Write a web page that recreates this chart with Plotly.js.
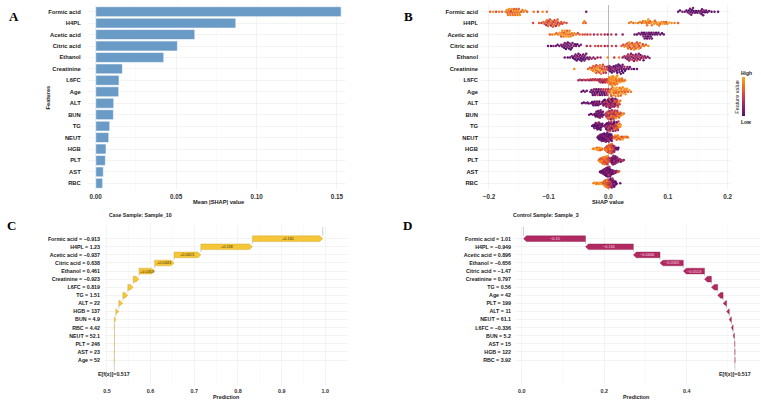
<!DOCTYPE html>
<html>
<head>
<meta charset="utf-8">
<script src="https://cdn.plot.ly/plotly-3.0.1.min.js"></script>
<style>
html,body{margin:0;padding:0;background:#fff}
#chart{width:761px;height:405px}
</style>
</head>
<body>
<div id="chart"></div>
<script>
// ---------- Panel A: mean |SHAP| importance ----------
const features = ['Formic acid','H4PL','Acetic acid','Citric acid','Ethanol','Creatinine','L6FC','Age','ALT','BUN','TG','NEUT','HGB','PLT','AST','RBC'];
const meanAbsShap = [0.1526,0.0871,0.0616,0.0508,0.0423,0.0166,0.0145,0.0143,0.0112,0.0110,0.0087,0.0081,0.0064,0.0060,0.0047,0.0043];

// ---------- Panel B: per-sample SHAP values (x 1000) and scaled feature value (0 = low, 9 = high) ----------
const formicPts = [[-198,6],[-193,8],[-188,5],[-183,7],[-178,6],[-172,7],[-170,8],[-169,6],[-168,7],[-167,7],[-166,8],[-165,6],[-164,7],[-163,5],[-162,8],[-161,6],[-160,7],[-159,8],[-158,6],[-157,6],[-156,7],[-155,8],[-154,6],[-153,7],[-152,7],[-151,8],[-150,6],[-149,7],[-148,8],[-146,6],[-144,7],[-142,7],[-139,8],[-136,6],[-125,7],[-118,5],[-110,8],[-103,6],[-37,1],
  [117,1],[120,0],[124,2],[128,1],[131,0],[133,1],[135,0],[136,2],[137,1],[138,0],[139,1],[140,0],[141,1],[142,2],[143,0],[145,1],[147,0],[149,1],[151,0],[153,2],[155,1],[156,0],[157,1],[158,0],[159,1],[160,2],[162,0],[164,1],[166,0],[169,1],[173,0],[178,1],[184,0]];
const h4plPts = [[-126,5],[-116,6],[-112,4],[-109,7],[-107,5],[-105,6],[-104,3],[-103,7],[-102,5],[-101,6],[-100,4],[-99,7],[-98,5],[-97,6],[-96,3],[-95,7],[-94,5],[-93,6],[-92,4],[-91,7],[-90,5],[-89,6],[-88,3],[-87,7],[-86,5],[-85,6],[-84,4],[-83,7],[-81,5],[-79,6],[-77,4],[-74,6],[-70,5],[-42,7],[-40,8],[-38,6],
  [35,7],[38,8],[42,6],[46,9],[50,7],[53,8],[56,6],[58,7],[60,9],[62,8],[64,6],[65,7],[66,8],[67,9],[68,7],[70,6],[72,8],[73,7],[75,9],[77,8],[78,6],[80,7],[82,8],[84,9],[85,7],[87,6],[89,8],[91,9],[93,7],[95,8],[97,6],[99,7],[102,9],[106,8],[111,7],[117,6]];
const aceticPts = [[-98,6],[-94,7],[-90,8],[-87,6],[-84,7],[-82,9],[-80,8],[-79,6],[-78,7],[-77,8],[-76,9],[-75,7],[-74,6],[-73,8],[-72,7],[-71,9],[-70,8],[-69,6],[-68,7],[-67,8],[-66,9],[-65,7],[-64,6],[-63,8],[-61,7],[-59,6],[-57,8],[-54,7],[-51,5],[-48,6],
  [-43,5],[-39,6],[-35,4],[-30,5],[-24,3],[-18,4],[-12,5],[-6,3],[-1,2],[5,4],[13,3],[24,2],
  [44,1],[48,0],[51,2],[54,1],[56,0],[58,1],[59,2],[60,0],[61,1],[62,0],[63,1],[64,2],[65,0],[66,1],[67,0],[68,1],[69,2],[70,0],[71,1],[72,0],[73,1],[74,0],[76,2],[78,1],[80,0],[82,1],[84,0],[87,1],[90,0],[93,1]];
const citricPts = [[-101,1],[-96,0],[-92,2],[-88,1],[-85,0],[-82,1],[-79,2],[-77,0],[-75,1],[-74,0],[-73,2],[-72,1],[-71,0],[-70,1],[-69,2],[-68,0],[-67,1],[-66,0],[-65,1],[-64,2],[-63,0],[-62,1],[-61,0],[-60,1],[-58,2],[-56,0],[-54,1],[-52,0],[-49,1],[-46,2],
  [-36,3],[-30,4],[-22,5],[-17,4],[-12,5],[-6,3],[-1,4],[6,5],[13,4],
  [22,6],[25,5],[27,7],[29,6],[31,8],[32,5],[33,7],[34,6],[35,8],[36,5],[37,7],[38,6],[39,9],[40,5],[41,7],[42,6],[43,8],[44,5],[45,7],[46,6],[47,8],[48,5],[49,7],[50,6],[51,9],[52,5],[53,7],[54,6],[56,8],[58,5],[60,7],[63,6],[67,8]];
const ethanolPts = [[-73,1],[-68,0],[-64,1],[-61,2],[-59,0],[-57,1],[-56,0],[-55,1],[-54,2],[-53,0],[-52,1],[-51,0],[-50,1],[-49,2],[-48,0],[-47,1],[-46,0],[-45,1],[-44,2],[-43,0],[-42,1],[-41,0],[-40,1],[-39,2],[-38,0],[-37,1],[-35,0],[-33,2],[-31,1],[-28,3],[-25,2],[-22,3],[-18,2],[-13,3],
  [-1,8],[10,4],[18,7],
  [24,2],[27,3],[29,1],[31,4],[32,2],[33,3],[34,1],[35,2],[36,4],[37,3],[38,1],[39,2],[40,5],[41,3],[42,1],[43,2],[44,4],[45,3],[46,1],[47,2],[48,5],[49,3],[50,1],[51,2],[52,4],[53,3],[54,1],[55,2],[57,3],[59,4],[61,2],[63,3],[66,1],[69,2],[59,1]];
const creatininePts = [[-57,8],[-34,7],[-31,6],[-29,8],[-27,5],[-26,7],[-25,6],[-24,8],[-23,9],[-22,6],[-21,7],[-20,5],[-19,8],[-18,6],[-17,7],[-16,9],[-15,5],[-14,6],[-13,8],[-12,7],[-11,5],[-10,6],[-9,8],[-8,4],[-7,6],[-6,5],[-5,7],[-4,4],[-3,5],[-2,3],[-20,6],[-14,7],[-9,5],
  [0,3],[1,1],[2,2],[3,0],[4,1],[5,2],[6,0],[7,1],[8,3],[9,0],[10,1],[11,2],[12,0],[13,1],[14,0],[15,2],[16,1],[17,0],[18,1],[19,2],[20,0],[21,1],[22,0],[23,2],[24,1],[25,0],[26,1],[27,3],[28,0],[30,1],[32,2],[34,0],[36,1],[39,2],[43,0],[48,1],[15,0],[19,1],[23,0]];
const l6fcPts = [[-50,3],[-47,4],[-44,2],[-41,5],[-38,3],[-35,4],[-32,2],[-30,5],[-28,3],[-26,4],
  [-24,5],[-22,3],[-20,4],[-18,5],[-16,2],[-15,4],[-14,3],[-13,5],[-12,4],[-11,3],[-10,5],[-9,2],[-8,4],[-7,3],[-6,5],[-5,4],[-4,3],[-3,5],[-2,4],[-1,6],
  [0,6],[1,7],[1,8],[2,9],[2,7],[3,8],[3,6],[4,9],[4,7],[5,8],[5,9],[6,7],[6,8],[7,6],[7,9],[8,7],[8,8],[9,9],[9,7],[10,8],[10,6],[11,9],[11,7],[12,8],[12,9],[13,7],[13,8],[14,6],[14,9],[15,7],[15,8],[16,9],[17,7],[18,8],[19,6],[20,9],[21,7],[22,8],[23,7],[24,6],[26,8],[28,7]];
const agePts = [[-45,1],[-42,0],[-39,2],[-36,1],
  [-30,0],[-28,1],[-27,2],[-26,0],[-25,1],[-24,3],[-23,0],[-22,1],[-21,2],[-20,0],[-19,1],[-18,4],[-17,0],[-16,1],[-15,2],[-14,0],[-13,1],[-12,3],[-11,0],[-10,1],[-9,2],[-8,4],[-7,1],[-6,0],[-5,3],[-4,5],[-3,2],[-2,4],[-1,5],[0,3],
  [2,6],[3,7],[4,8],[5,6],[6,9],[7,7],[8,8],[9,6],[10,9],[11,7],[12,8],[13,6],[14,9],[15,7],[16,8],[17,9],[18,6],[19,7],[20,8],[21,9],[22,7],[23,6],[24,8],[25,9],[26,7],[27,8],[28,6],[29,9],[30,7],[31,8],[33,6],[35,9],[38,7],[13,8],[17,7],[21,6],[9,8],[5,5]];
const altPts = [[-44,1],[-41,0],[-38,2],[-35,1],[-33,0],
  [-29,1],[-27,0],[-26,2],[-25,1],[-24,0],[-23,1],[-22,3],[-21,0],[-20,1],[-19,2],[-18,0],[-17,1],[-16,3],[-15,0],[-14,1],
  [-11,2],[-10,1],[-9,3],[-8,0],[-7,2],[-6,4],[-5,1],[-4,3],[-3,0],[-2,5],[-1,2],[0,1],[1,4],[2,0],[3,3],[4,5],[5,1],[6,2],[7,4],[8,0],[9,3],[10,5],[11,1],[12,6],[13,2],[14,4],[15,7],[16,3],[17,6],[18,8],[19,5],[20,7],
  [-6,0],[-3,2],[0,4],[3,1],[6,3],[9,5],[12,2],[15,4],[-8,1],[-4,3],[0,0],[4,2],[8,4],[12,1],[16,6],[1,3],[5,0],[10,2],[2,5],[7,1]];
const bunPts = [[-32,1],[-29,0],[-26,2],
  [-23,0],[-22,1],[-21,0],[-20,2],[-19,1],[-18,0],[-17,1],[-16,0],[-15,2],[-14,1],[-13,0],[-12,1],[-11,0],[-10,2],[-9,1],[-8,0],[-20,1],[-17,0],[-14,2],[-11,1],[-16,1],[-13,2],
  [-5,3],[-4,5],[-3,2],[-2,6],[-1,4],[0,3],[1,7],[2,5],[3,2],[4,6],[5,4],[6,8],[7,3],[8,5],[9,7],[10,2],[11,6],[12,4],[13,8],[14,5],[15,3],[16,7],[17,6],[18,9],[19,4],[20,7],[21,8],[22,5],[24,9],[26,7],
  [-3,4],[0,6],[3,5],[6,3],[9,6],[12,7],[15,4],[18,6],[-1,5],[2,3],[5,7],[8,4],[11,5],[14,6],[4,2],[7,6],[10,4]];
const tgPts = [[-27,0],[-25,1],[-24,0],[-23,2],[-22,0],[-21,1],[-20,0],[-19,1],[-18,2],[-17,0],[-16,1],[-15,0],[-14,1],[-13,2],[-12,0],[-11,1],[-10,0],[-9,1],[-22,1],[-19,0],[-16,2],[-13,0],[-18,1],[-15,0],
  [-6,2],[-5,1],[-4,3],[-3,0],[-2,4],[-1,2],[0,1],[1,5],[2,3],[3,0],[4,6],[5,2],[6,4],[7,1],[8,7],[9,3],[10,5],[11,2],[12,8],[13,4],[14,6],[15,3],[16,8],[17,7],[18,9],[19,6],[20,8],[21,9],
  [-4,1],[-1,3],[2,0],[5,4],[8,2],[11,5],[14,1],[17,4],[-2,0],[1,2],[4,3],[7,5],[10,1],[13,6],[16,2],[3,4],[6,1],[9,0],[12,3],[15,5]];
const neutPts = [[-18,0],[-17,1],[-16,0],[-15,2],[-14,1],[-13,0],[-12,1],[-11,2],[-10,0],[-9,1],[-8,0],[-7,2],[-6,1],[-5,0],[-4,1],[-3,3],[-2,0],[-1,1],[0,2],[1,0],[2,1],[3,3],[4,0],[5,2],[6,1],[7,3],
  [-15,0],[-12,1],[-9,0],[-6,2],[-3,1],[0,0],[3,1],[6,2],[-13,1],[-10,0],[-7,1],[-4,2],[-1,0],[2,1],[5,0],[-11,1],[-8,2],[-5,0],[-2,1],[1,2],[4,0],[-7,0],[-3,1],[0,3],
  [9,5],[10,7],[11,6],[12,8],[13,5],[14,9],[15,6],[16,7],[17,8],[18,5],[19,9],[20,6],[21,7],[22,8],[23,5],[24,9],[25,6],[27,7],[29,8],[31,6],[33,7],[14,6]];
const hgbPts = [[-26,8],[-24,7],[-22,9],[-20,8],[-19,6],[-18,9],[-17,7],[-16,8],[-15,9],[-14,7],[-13,8],[-12,6],[-11,9],[-10,7],[-20,9],[-15,8],
  [-6,6],[-5,5],[-4,7],[-3,4],[-2,6],[-1,8],[0,5],[1,7],[2,4],[3,6],[4,8],[5,5],[6,7],[7,3],[8,6],[9,5],[10,4],[11,3],[12,2],[13,1],
  [-4,6],[-2,5],[0,7],[2,6],[4,4],[6,5],[8,7],[10,3],[-3,7],[-1,6],[1,5],[3,8],[5,4],[7,6],[9,2],[-5,7],[0,6],[5,6],[10,2],[-2,8],[2,5],[6,4],[1,6],[3,7],[4,5],[5,3],[6,6],[7,4],[8,3],[0,4],[2,7],[4,6],[14,1],[15,0],[16,1],[17,0]];
const pltPts = [[-16,7],[-15,6],[-14,8],[-13,5],[-12,7],[-11,6],[-10,9],[-9,5],[-8,7],[-7,6],[-6,8],[-5,5],[-4,7],[-3,6],[-2,4],[-1,7],[0,5],[1,6],[2,4],[3,5],[-13,8],[-11,6],[-9,7],[-7,5],[-5,8],[-3,6],[-1,5],[1,4],[-10,6],[-8,7],[-6,5],[-4,6],[-2,8],[0,6],[-6,7],[-3,5],
  [4,3],[5,2],[6,1],[7,3],[8,0],[9,2],[10,4],[11,1],[12,3],[13,0],[14,2],[15,4],[16,1],[17,3],[18,0],[19,2],[20,5],[21,1],[22,3],[24,4],[26,2],[5,1],[7,2],[9,0],[11,3],[13,1],[15,2],[6,0],[8,1],[10,2],[12,0],[14,3],[7,1],[9,3],[11,2],[8,2]];
const astPts = [[-14,0],[-13,1],[-12,0],[-11,2],[-10,1],[-9,0],[-8,1],[-7,3],[-6,0],[-5,1],[-4,2],[-3,0],[-2,1],[-1,4],[0,0],[1,1],[2,2],[3,0],[4,1],[5,3],[6,0],[7,1],[8,2],[9,0],[10,1],[11,4],[12,0],[13,1],[14,2],[16,5],
  [-10,0],[-8,2],[-6,1],[-4,0],[-2,3],[0,1],[2,0],[4,2],[6,1],[8,0],[10,3],[-9,1],[-7,0],[-5,2],[-3,1],[-1,0],[1,3],[3,1],[5,0],[7,2],[-6,0],[-4,1],[-2,0],[0,2],[2,1],[4,0],[-5,1],[-3,2],[-1,1],[1,0],[3,2],[-4,0],[-2,1],[0,0],[2,3],[-1,2],[1,1],[0,4],[-3,0],[3,1],[-7,1],[18,6]];
const rbcPts = [[-25,8],[-23,7],[-21,9],[-19,8],[-17,7],[-15,9],[-13,8],[-11,6],[-20,7],[-16,8],[-12,9],
  [-9,7],[-8,5],[-7,8],[-6,4],[-5,6],[-4,7],[-3,3],[-2,5],[-1,8],[0,2],[1,6],[2,4],[3,7],[4,1],[5,5],[6,3],[7,6],[8,0],[9,4],[10,2],[11,5],[12,1],[13,3],[14,0],
  [-8,6],[-6,7],[-4,5],[-2,6],[0,4],[2,7],[4,3],[6,5],[8,2],[10,1],[12,0],[-7,7],[-5,8],[-3,6],[-1,5],[1,3],[3,4],[5,2],[7,1],[9,0],[-4,6],[-1,7],[2,5],[5,3],[8,1],[0,6],[3,2],[-2,8],[1,4],[4,0],[6,2],[-6,6],[11,0],[20,1],[-3,7],[7,3]];
const beePoints = [formicPts,h4plPts,aceticPts,citricPts,ethanolPts,creatininePts,l6fcPts,agePts,altPts,bunPts,tgPts,neutPts,hgbPts,pltPts,astPts,rbcPts];

// ---------- Panels C and D: single-sample waterfalls ----------
const baseValue = 0.517;
const caseFeatures = ['Formic acid','H4PL','Acetic acid','Citric acid','Ethanol','Creatinine','L6FC','TG','ALT','HGB','BUN','RBC','NEUT','PLT','AST','Age'];
const caseValues = ['\u22120.913','1.23','\u22120.937','0.638','0.461','\u22120.923','0.819','1.51','22','137','4.9','4.42','52.1','246','23','52'];
const caseShap = [0.161,0.118,0.0613,0.0443,0.0359,0.0132,0.0124,0.0114,0.0092,0.0068,0.0035,-0.0002,-0.0003,0.0002,0.0001,0.0002];
const controlFeatures = ['Formic acid','H4PL','Acetic acid','Ethanol','Citric acid','Creatinine','TG','Age','PLT','ALT','NEUT','L6FC','BUN','AST','HGB','RBC'];
const controlValues = ['1.01','\u22120.949','0.896','\u22120.656','\u22121.47','0.797','0.56','42','199','11','61.1','\u22120.336','5.2','15','122','3.92'];
const controlShap = [-0.1503,-0.116,-0.0646,-0.0565,-0.0513,-0.0168,-0.0152,-0.0131,-0.0084,-0.0065,-0.0052,-0.0042,-0.0031,-0.0008,-0.0004,-0.0002];

// ---------- geometry / style ----------
const W = 761, H = 405;
const FONT = 'Liberation Sans, Arial, sans-serif';
const SERIF = 'Liberation Serif, Times New Roman, serif';
const GRID = '#ebebeb', MINOR = '#f5f5f5';
const px2x = p => p / W, px2y = p => 1 - p / H;

const pA = {x:[87.7,345], y:[4.8,190.2], xr:[-0.005,0.155]};
const pB = {x:[481,730], y:[4.8,190.2], xr:[-0.2133,0.2039]};
const pC = {x:[105,348], y:[226,386], xr:[0.4957,1.0518]};
const pD = {x:[515,760], y:[226,386], xr:[-0.0162,0.5777]};
const rowRangeTop = [15.6,-0.6];
const rowRangeBottom = [18.21,-1.57];

const inferno = [[0,'#550F6C'],[0.15,'#781C6D'],[0.34,'#A52C60'],[0.53,'#CF4446'],[0.72,'#ED6925'],[0.9,'#F7901A'],[1,'#F8A53A']];

function xAxis(p, anchor, dtick, fmt, size, zero){
  return {domain:[px2x(p.x[0]), px2x(p.x[1])], range:p.xr, anchor, tick0:0, dtick, tickformat:fmt,
    showgrid:true, gridcolor:GRID, gridwidth:0.6,
    minor:{tick0:0, dtick:dtick/2, showgrid:true, gridcolor:MINOR, gridwidth:0.5},
    zeroline:!!zero, zerolinecolor:'#a8a8a8', zerolinewidth:0.8,
    showline:false, ticks:'', ticklabelstandoff:1,
    tickfont:{family:FONT, size, color:'#333', weight:700}, fixedrange:true};
}
function yAxis(p, anchor, range, labels, size, standoff){
  return {domain:[px2y(p.y[1]), px2y(p.y[0])], range, anchor, tickmode:'array',
    tickvals:labels.map((_, i) => i), ticktext:labels,
    showgrid:true, gridcolor:GRID, gridwidth:0.6, zeroline:false, showline:false, ticks:'',
    ticklabelstandoff:standoff, tickfont:{family:FONT, size, color:'#1a1a1a', weight:700}, fixedrange:true};
}

// ---------- beeswarm offsets (pixel space) ----------
function swarmOffsets(xs, d){
  const order = xs.map((_, i) => i).sort((a, b) => xs[a] - xs[b]);
  const placed = [], off = new Array(xs.length).fill(0);
  for (const i of order){
    const x = xs[i];
    const near = placed.filter(p => Math.abs(p.x - x) < d);
    const cands = [0];
    for (const p of near){ const dy = Math.sqrt(d*d - (p.x - x)**2); cands.push(p.y + dy, p.y - dy); }
    cands.sort((a, b) => Math.abs(a) - Math.abs(b) || a - b);
    let y = 0;
    for (const c of cands){
      if (near.every(p => (p.x - x)**2 + (p.y - c)**2 >= d*d - 1e-6)){ y = c; break; }
    }
    placed.push({x, y}); off[i] = y;
  }
  return off;
}

const bX = [], bY = [], bC = [];
const bPxPerUnit = (pB.x[1] - pB.x[0]) / (pB.xr[1] - pB.xr[0]);
const bRowPx = (pB.y[1] - pB.y[0]) / (rowRangeTop[0] - rowRangeTop[1]);
beePoints.forEach((pts, row) => {
  const vals = pts.map(p => p[0] / 1000);
  const xs = vals.map(v => v * bPxPerUnit);
  let off = swarmOffsets(xs, 2.15);
  const maxOff = Math.max(...off.map(Math.abs));
  const limit = 0.42 * bRowPx;
  if (maxOff > limit) off = off.map(o => o * limit / maxOff);
  vals.forEach((v, k) => { bX.push(v); bY.push(row + off[k] / bRowPx); bC.push(pts[k][1] / 9); });
});

// ---------- waterfall geometry ----------
function waterfall(shap, p, axX, axY, fill, edge, textColor){
  const pxPerUnit = (p.x[1] - p.x[0]) / (p.xr[1] - p.xr[0]);
  const head = 3 / pxPerUnit, half = 0.35;
  const n = shap.length, bars = new Array(n);
  let cum = baseValue;
  for (let i = n - 1; i >= 0; i--){ bars[i] = {s:cum, e:cum + shap[i]}; cum += shap[i]; }
  const fx = cum;
  const px = [], py = [], lx = [], ly = [], notes = [];
  bars.forEach((b, i) => {
    const dir = b.e >= b.s ? 1 : -1;
    const h = Math.min(head, Math.abs(b.e - b.s));
    const base = b.e - dir * h;
    px.push(b.s, base, b.e, base, b.s, b.s, null);
    py.push(i - half, i - half, i, i + half, i + half, i - half, null);
    if (i > 0){ lx.push(b.e, b.e, null); ly.push(i - half, i - 1 + half, null); }
    if (Math.abs(shap[i]) > 0.025){
      const s = String(Number(shap[i].toPrecision(3)));
      const txt = shap[i] > 0 ? '+' + s : s.replace('-', '\u2212');
      notes.push({x:(b.s + b.e) / 2, y:i, xref:axX, yref:axY, text:txt, showarrow:false,
        font:{family:FONT, size:3.9, color:textColor}});
    }
  });
  lx.push(fx, fx, null); ly.push(-1.45, -half, null);
  lx.push(baseValue, baseValue, null); ly.push(n - 1 + half, 16.3, null);
  notes.push({x:fx, y:-1.9, xref:axX, yref:axY, text:'f(x)=' + fx.toFixed(3), showarrow:false,
    font:{family:FONT, size:5.3, color:'#1a1a1a', weight:700}});
  notes.push({x:baseValue, y:16.7, xref:axX, yref:axY, text:'E[f(x)]=' + baseValue.toFixed(3), showarrow:false,
    font:{family:FONT, size:5.3, color:'#1a1a1a', weight:700}});
  const traces = [
    {type:'scatter', mode:'lines', x:lx, y:ly, xaxis:axX, yaxis:axY, line:{color:'#a0a0a0', width:0.5}, hoverinfo:'skip', showlegend:false},
    {type:'scatter', mode:'lines', x:px, y:py, xaxis:axX, yaxis:axY, fill:'toself', fillcolor:fill,
     line:{color:edge, width:0.4}, hoverinfo:'skip', showlegend:false}
  ];
  return {traces, notes};
}

const wfC = waterfall(caseShap, pC, 'x3', 'y3', '#f5c637', '#c99f25', '#3a3000');
const wfD = waterfall(controlShap, pD, 'x4', 'y4', '#b02a61', '#8a1e4a', '#f6dbe6');

const traces = [
  {type:'bar', orientation:'h', x:meanAbsShap, y:features.map((_, i) => i), width:0.87,
   marker:{color:'#6a9bc7', line:{color:'#ffffff', width:0.6}}, xaxis:'x', yaxis:'y', hoverinfo:'skip', showlegend:false},
  {type:'scatter', mode:'markers', x:bX, y:bY, xaxis:'x2', yaxis:'y2', hoverinfo:'skip', showlegend:false,
   marker:{size:2.5, color:bC, colorscale:inferno, cmin:0, cmax:1, line:{width:0}, showscale:true,
     colorbar:{x:px2x(741.5), xanchor:'left', y:px2y(96.7), yanchor:'middle', len:38.7, lenmode:'pixels',
       thickness:2.6, thicknessmode:'pixels', xpad:0, ypad:0, outlinewidth:0, showticklabels:false, ticks:''}}},
  ...wfC.traces, ...wfD.traces
];

function note(text, x, y, size, opts){
  return Object.assign({xref:'paper', yref:'paper', x:px2x(x), y:px2y(y), text, showarrow:false,
    xanchor:'center', yanchor:'middle', font:{family:FONT, size, color:'#1a1a1a', weight:700}}, opts || {});
}

const annotations = [
  note('A', 14, 17, 13, {font:{family:SERIF, size:13, color:'#000', weight:700}}),
  note('B', 408, 17, 13, {font:{family:SERIF, size:13, color:'#000', weight:700}}),
  note('C', 12, 225, 13, {font:{family:SERIF, size:13, color:'#000', weight:700}}),
  note('D', 407, 225, 13, {font:{family:SERIF, size:13, color:'#000', weight:700}}),
  note('Features', 48, 97.5, 5.7, {textangle:-90}),
  note('Mean |SHAP| value', 218, 202, 5.7),
  note('SHAP value', 608, 202, 5.7),
  note('High', 746.5, 72.5, 5),
  note('Low', 746, 122, 5),
  note('Feature value', 737, 96.7, 5.5, {textangle:-90, font:{family:FONT, size:5.5, color:'#1a1a1a'}}),
  note('Case Sample: Sample_10', 107, 215, 5.2, {xanchor:'left'}),
  note('Control Sample: Sample_3', 511, 215, 5.2, {xanchor:'left'}),
  note('Prediction', 226, 397, 5.4),
  note('Prediction', 636, 397, 5.4),
  ...wfC.notes, ...wfD.notes
];

const layout = {
  width:W, height:H, margin:{l:0, r:0, t:0, b:0}, paper_bgcolor:'#fff', plot_bgcolor:'#fff',
  showlegend:false, font:{family:FONT},
  xaxis: xAxis(pA, 'y', 0.05, '.2f', 6.3),
  yaxis: yAxis(pA, 'x', rowRangeTop, features, 5.8, 6),
  xaxis2: xAxis(pB, 'y2', 0.1, '.1f', 6.3, true),
  yaxis2: yAxis(pB, 'x2', rowRangeTop, features, 5.8, 2),
  xaxis3: xAxis(pC, 'y3', 0.1, '.1f', 5.4),
  yaxis3: yAxis(pC, 'x3', rowRangeBottom, caseFeatures.map((f, i) => f + ' = ' + caseValues[i]), 5.3, 4),
  xaxis4: xAxis(pD, 'y4', 0.2, '.1f', 5.4),
  yaxis4: yAxis(pD, 'x4', rowRangeBottom, controlFeatures.map((f, i) => f + ' = ' + controlValues[i]), 5.3, 3),
  annotations
};

Plotly.newPlot('chart', traces, layout, {staticPlot:true, displayModeBar:false});
</script>
</body>
</html>
